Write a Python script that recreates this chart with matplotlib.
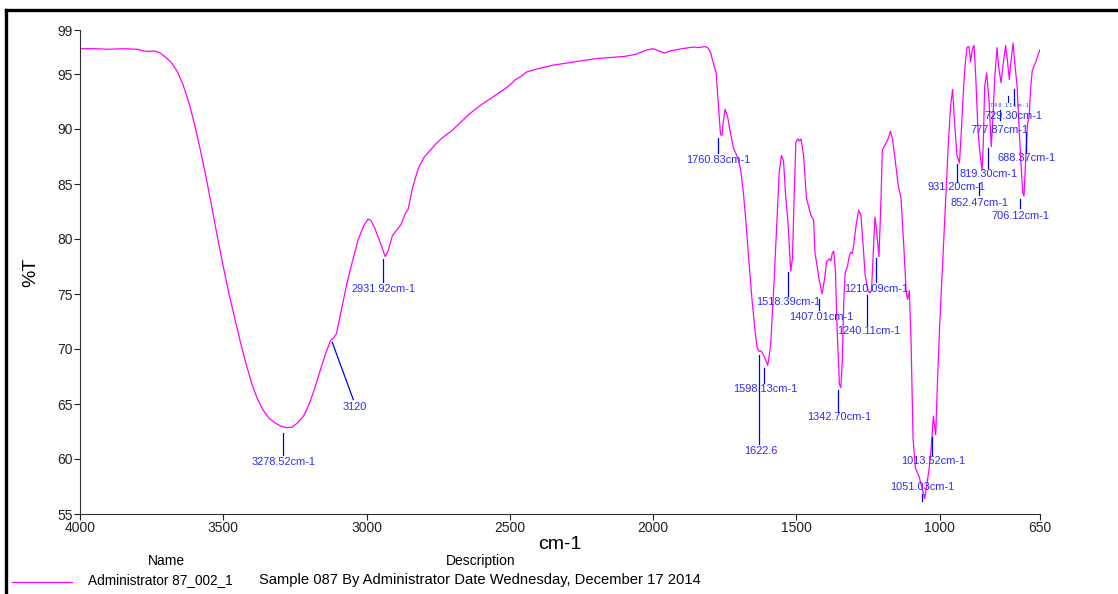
import matplotlib
matplotlib.use('Agg')
import matplotlib.pyplot as plt
from matplotlib.lines import Line2D

plt.rcParams['font.family'] = ['Liberation Sans', 'DejaVu Sans']

# IR spectrum (wavenumber cm-1, %T)
wavenumber = [
    4000, 3950, 3900, 3850, 3800, 3780, 3760, 3740, 3720, 3700, 3680, 3660,
    3640, 3620, 3600, 3580, 3560, 3540, 3520, 3500, 3480, 3460, 3440, 3420,
    3400, 3380, 3360, 3340, 3320, 3300, 3280, 3260, 3240, 3220, 3200, 3180,
    3160, 3140, 3125, 3115, 3105, 3090, 3070, 3050, 3030, 3010, 2995, 2985,
    2970, 2950, 2935, 2925, 2910, 2895, 2880, 2865, 2855, 2840, 2820, 2800,
    2780, 2760, 2740, 2720, 2700, 2680, 2660, 2640, 2600, 2560, 2520, 2500,
    2480, 2460, 2440, 2400, 2350, 2300, 2250, 2200, 2150, 2100, 2060, 2040,
    2020, 2000, 1980, 1960, 1940, 1900, 1860, 1840, 1820, 1810, 1800, 1790,
    1780, 1772, 1765, 1760, 1755, 1749, 1740, 1730, 1720, 1705, 1695, 1685,
    1675, 1665, 1655, 1645, 1637, 1630, 1622, 1612, 1600, 1590, 1578, 1568,
    1560, 1552, 1545, 1537, 1530, 1520, 1514, 1508, 1502, 1495, 1490, 1484,
    1475, 1465, 1450, 1440, 1435, 1430, 1420, 1410, 1400, 1395, 1385, 1380,
    1375, 1370, 1364, 1358, 1350, 1345, 1340, 1335, 1330, 1322, 1315, 1310,
    1305, 1300, 1292, 1283, 1275, 1268, 1260, 1250, 1243, 1238, 1232, 1226,
    1220, 1212, 1206, 1200, 1190, 1180, 1172, 1165, 1155, 1145, 1135, 1125,
    1117, 1112, 1106, 1100, 1093, 1085, 1072, 1062, 1052, 1045, 1038, 1030,
    1022, 1014, 1008, 1000, 990, 980, 970, 962, 955, 948, 940, 931,
    925, 918, 912, 905, 898, 892, 886, 880, 874, 866, 858, 852,
    848, 843, 836, 828, 820, 814, 808, 800, 794, 786, 778, 770,
    764, 757, 750, 744, 738, 730, 724, 716, 710, 706, 700, 694,
    688, 683, 677, 670, 663, 656, 650,
]
transmittance = [
    97.3, 97.3, 97.25, 97.3, 97.25, 97.1, 97.05, 97.1, 96.9, 96.5, 96.0, 95.2,
    94.0, 92.4, 90.4, 88.1, 85.6, 82.9, 80.1, 77.5, 75.0, 72.8, 70.6, 68.6,
    66.8, 65.4, 64.4, 63.7, 63.3, 63.0, 62.85, 62.9, 63.3, 63.9, 65.0, 66.5,
    68.2, 69.8, 70.8, 71.0, 71.4, 73.3, 75.8, 77.9, 79.9, 81.2, 81.8, 81.7,
    80.9, 79.5, 78.4, 78.9, 80.3, 80.8, 81.3, 82.3, 82.7, 84.6, 86.4, 87.4,
    88.0, 88.6, 89.1, 89.5, 89.9, 90.4, 90.9, 91.4, 92.2, 92.9, 93.6, 94.0,
    94.5, 94.8, 95.2, 95.5, 95.8, 96.0, 96.2, 96.4, 96.5, 96.6, 96.8, 97.0,
    97.2, 97.3, 97.1, 96.9, 97.1, 97.3, 97.45, 97.4, 97.5, 97.4, 97.0, 96.0,
    95.1, 92.1, 89.5, 89.4, 90.7, 91.8, 91.1, 89.6, 88.3, 87.4, 86.4, 84.2,
    81.2, 77.7, 74.5, 71.8, 70.1, 69.8, 69.8, 69.3, 68.5, 70.3, 76.1, 81.7,
    86.1, 87.6, 87.1, 83.7, 81.7, 77.1, 78.2, 83.7, 88.8, 89.1, 88.9, 89.1,
    87.6, 83.7, 82.2, 81.7, 78.7, 77.9, 76.2, 75.0, 76.7, 77.9, 78.2, 78.0,
    78.7, 78.9, 77.2, 71.8, 66.8, 66.5, 68.8, 74.2, 76.9, 77.5, 78.5, 78.8,
    78.7, 79.5, 81.2, 82.6, 82.2, 79.7, 76.7, 75.3, 75.1, 75.3, 78.7, 82.0,
    80.7, 78.4, 82.7, 88.1, 88.6, 89.1, 89.8, 89.1, 87.1, 84.9, 83.7, 79.2,
    75.2, 74.5, 75.3, 70.8, 61.9, 59.2, 58.4, 57.4, 56.4, 57.7, 58.9, 60.9,
    63.9, 62.2, 66.8, 72.2, 77.7, 83.2, 88.6, 92.1, 93.6, 90.6, 87.6, 86.9,
    89.6, 93.1, 95.6, 97.4, 97.5, 96.1, 97.3, 97.6, 94.6, 89.6, 87.4, 86.3,
    88.6, 93.9, 95.1, 92.6, 88.4, 91.1, 94.6, 97.4, 95.6, 94.2, 96.0, 97.6,
    96.3, 94.5, 96.5, 97.8, 96.0, 93.9, 90.6, 86.6, 84.2, 83.9, 87.1, 90.4,
    91.1, 93.6, 95.3, 95.8, 96.2, 96.8, 97.2,
]

# peak labels
peak_labels = [
    '3278.52cm-1', '3120', '2931.92cm-1', '1760.83cm-1', '1598.13cm-1',
    '1622.6', '1518.39cm-1', '1407.01cm-1', '1342.70cm-1', '1240.11cm-1',
    '1210.09cm-1', '1013.52cm-1', '1051.03cm-1', '931.20cm-1', '852.47cm-1',
    '819.30cm-1', '777.87cm-1', '729.30cm-1', '706.12cm-1', '688.37cm-1',
]

# where each label's leader line and text sit (w0, t0, w1, t1, text_w, text_t)
label_layout = [
    (3292.7, 62.4, 3292.7, 60.4, 3288, 59.75),
    (3119.6, 70.6, 3046.3, 65.4, 3040, 64.7),
    (2943.7, 78.15, 2943.7, 76.1, 2941.6, 75.5),
    (1772.6, 89.15, 1772.6, 87.85, 1772, 87.2),
    (1612, 68.3, 1612, 66.9, 1607, 66.35),
    (1629.6, 69.45, 1629.6, 61.4, 1624, 60.7),
    (1529.4, 77.0, 1529.4, 74.8, 1528.4, 74.25),
    (1420.2, 74.55, 1420.2, 73.55, 1414.2, 72.9),
    (1353.9, 66.3, 1353.9, 64.3, 1350.3, 63.85),
    (1252.7, 74.9, 1252.7, 72.2, 1249.2, 71.65),
    (1222.3, 78.25, 1222.3, 76.1, 1220, 75.5),
    (1025.9, 62.0, 1025.9, 60.4, 1022.4, 59.85),
    (1062.8, 56.8, 1062.8, 56.2, 1060.7, 57.5),
    (940.7, 86.8, 940.7, 85.15, 943.1, 84.75),
    (862.9, 85.05, 862.9, 84.0, 859.4, 83.3),
    (830.4, 88.25, 830.4, 86.45, 830.4, 85.95),
    (789.6, 91.7, 789.6, 90.8, 792, 89.9),
    (739.7, 93.6, 739.7, 92.2, 743.2, 91.2),
    (719.8, 83.6, 719.8, 82.8, 717.5, 82.1),
    (699.9, 89.6, 699.9, 87.95, 696.6, 87.4),
]

W, H = 1118, 594
fig = plt.figure(figsize=(W / 100, H / 100), dpi=100)
ax = fig.add_axes([80 / W, 1 - 514 / H, 960 / W, 484 / H])

ax.plot(wavenumber, transmittance, color='#ff00ff', lw=0.9)

for label, (w0, t0, w1, t1, tw, tt) in zip(peak_labels, label_layout):
    ax.plot([w0, w1], [t0, t1], color='#0000ff', lw=0.9)
    ax.text(tw, tt, label, color='#2b2bff', fontsize=7.9,
            ha='center', va='center')

# tiny overlapped label squeezed between the small peaks
ax.plot([760.7, 760.7], [93.0, 92.5], color='#0000ff', lw=0.8)
ax.text(758, 92.15, '7 4 8 . 1 1 c m - 1', color='#2b2bff', fontsize=3.6,
        ha='center', va='center')

ax.set_xlim(4000, 650)
ax.set_ylim(55, 99)
ax.set_xticks([4000, 3500, 3000, 2500, 2000, 1500, 1000, 650])
ax.set_yticks([55, 60, 65, 70, 75, 80, 85, 90, 95, 99])
ax.tick_params(direction='out', length=4, width=0.8, labelsize=10,
               colors='#222222', pad=1)
for s in ['top', 'right']:
    ax.spines[s].set_visible(False)
for s in ['left', 'bottom']:
    ax.spines[s].set_linewidth(0.8)
    ax.spines[s].set_color('#333333')

ax.set_xlabel('cm-1', fontsize=14, labelpad=1)
ax.set_ylabel('%T', fontsize=14, labelpad=13)

# legend block under the axis
fig.text(166 / W, 1 - 561 / H, 'Name', fontsize=10, ha='center', va='center')
fig.text(481 / W, 1 - 561 / H, 'Description', fontsize=10, ha='center', va='center')
fig.add_artist(Line2D([12 / W, 72 / W], [1 - 582 / H, 1 - 582 / H],
                      color='#ff00ff', lw=0.9))
fig.text(88 / W, 1 - 580 / H, 'Administrator 87_002_1', fontsize=9.8,
         ha='left', va='center')
fig.text(259 / W, 1 - 580 / H,
         'Sample 087 By Administrator Date Wednesday, December 17 2014',
         fontsize=10.6, ha='left', va='center')

# heavy frame on the left and top edges
fig.add_artist(Line2D([6 / W, 1.0], [1 - 10 / H, 1 - 10 / H], color='black', lw=2.4))
fig.add_artist(Line2D([6 / W, 6 / W], [0, 1 - 10 / H], color='black', lw=2.4))

fig.savefig('out.png', dpi=100)
